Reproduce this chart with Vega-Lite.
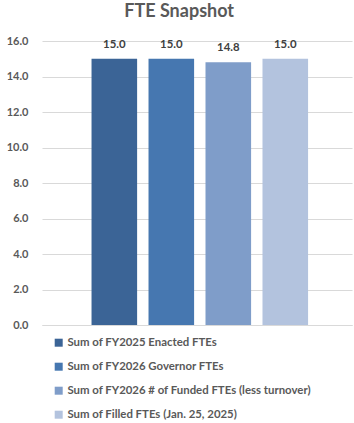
{
  "$schema": "https://vega.github.io/schema/vega-lite/v6.json",
  "autosize": "none",
  "width": 310,
  "height": 284,
  "padding": {"left": 42, "top": 41, "right": 2, "bottom": 98},
  "background": "white",
  "config": {"view": {"stroke": null}, "font": "Lato"},
  "title": {"text": "FTE Snapshot", "fontSize": 18, "fontWeight": "bold", "color": "#595959", "anchor": "middle", "frame": "bounds", "offset": 14, "font": "Lato"},
  "data": {"values": [
    {"series": "Sum of FY2025 Enacted FTEs", "value": 15.0},
    {"series": "Sum of FY2026 Governor FTEs", "value": 15.0},
    {"series": "Sum of FY2026 # of Funded FTEs (less turnover)", "value": 14.8},
    {"series": "Sum of Filled FTEs (Jan. 25, 2025)", "value": 15.0}
  ]},
  "encoding": {
    "x": {"field": "series", "type": "nominal", "sort": null,
      "scale": {"paddingInner": 0.2, "paddingOuter": 0.82, "align": 0.53},
      "axis": {"title": null, "labels": false, "ticks": false, "domain": true, "domainColor": "#D9D9D9"}},
    "y": {"field": "value", "type": "quantitative",
      "scale": {"domain": [0, 16]},
      "axis": {"title": null, "values": [0, 2, 4, 6, 8, 10, 12, 14, 16], "format": ".1f", "domain": false, "ticks": false,
        "labelPadding": 14, "labelFontSize": 11, "labelFontWeight": "bold", "labelColor": "#595959", "gridColor": "#D9D9D9"}}
  },
  "layer": [
    {"mark": {"type": "bar"},
      "encoding": {"color": {"field": "series", "type": "nominal", "sort": null,
        "scale": {"range": ["#3B6496", "#4677B0", "#7F9DC9", "#B3C3DE"]},
        "legend": {"title": null, "orient": "none", "legendX": 11, "legendY": 296, "direction": "vertical",
          "symbolType": "square", "symbolSize": 64, "symbolStrokeWidth": 0, "labelFontSize": 11.4, "labelFontWeight": "bold",
          "labelColor": "#595959", "rowPadding": 11, "labelOffset": 3, "labelLimit": 400}}}},
    {"mark": {"type": "text", "baseline": "bottom", "dy": -9, "fontSize": 11.4, "fontWeight": "bold", "color": "#404040"},
      "encoding": {"text": {"field": "value", "type": "quantitative", "format": ".1f"}}}
  ]
}
